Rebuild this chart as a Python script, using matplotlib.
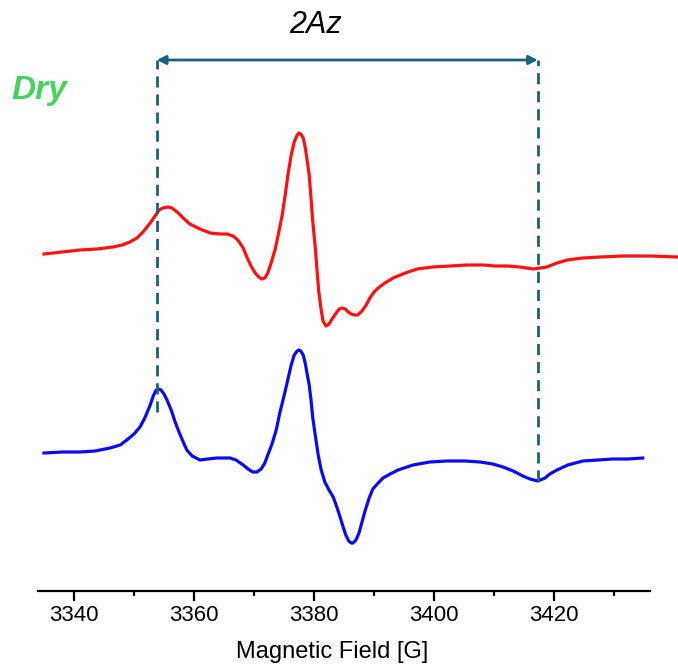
import matplotlib
matplotlib.use("Agg")
import matplotlib.pyplot as plt
from matplotlib.ticker import MultipleLocator

plt.rcParams['font.family'] = ['Liberation Sans', 'DejaVu Sans']

# Spektren (Feld in G, Intensitaet in willkuerlichen Einheiten)
field_red = [3335.0, 3338.0, 3341.0, 3343.8, 3346.5, 3348.0, 3349.3, 3350.5, 3351.5, 3352.7,
             3353.5, 3354.2, 3354.8, 3355.7, 3356.3, 3357.2, 3358.2, 3359.3, 3361.0, 3362.7,
             3364.3, 3365.5, 3366.5, 3367.3, 3368.2, 3368.8, 3369.5, 3370.2, 3370.8, 3371.3,
             3371.8, 3372.3, 3372.8, 3373.5, 3374.0, 3374.7, 3375.2, 3375.7, 3376.2, 3376.7,
             3377.2, 3377.5, 3377.8, 3378.2, 3378.5, 3378.8, 3379.2, 3379.5, 3379.8, 3380.2,
             3380.5, 3380.8, 3381.2, 3381.5, 3382.0, 3382.5, 3383.0, 3383.7, 3384.2, 3384.7,
             3385.2, 3385.7, 3386.2, 3386.8, 3387.3, 3388.0, 3388.7, 3389.3, 3390.0, 3390.7,
             3391.8, 3393.2, 3395.2, 3397.2, 3399.8, 3402.7, 3405.5, 3408.2, 3410.2, 3412.2,
             3414.3, 3416.5, 3417.7, 3418.8, 3420.5, 3422.2, 3424.8, 3427.7, 3431.5, 3436.0,
             3440.5]
signal_red = [1, 3, 5, 6, 8, 10, 13, 17, 23, 32,
              39, 45, 47, 48, 47, 43, 37, 31, 26, 22,
              21, 21, 19, 15, 7, -2, -11, -18, -22, -24,
              -23, -18, -9, 5, 19, 40, 60, 82, 100, 113,
              120, 122, 121, 117, 109, 97, 80, 57, 33, 8,
              -15, -37, -55, -66, -71, -69, -64, -58, -54, -53,
              -54, -57, -59, -60, -60, -56, -50, -43, -37, -33,
              -28, -23, -18, -14, -12, -11, -10, -10, -11, -11,
              -12, -14, -13, -12, -8, -5, -3, -2, -1, -1,
              -2]

field_blue = [3335.0, 3338.0, 3341.0, 3343.5, 3346.0, 3347.7, 3348.8, 3350.0, 3351.0, 3351.8,
              3352.7, 3353.2, 3353.7, 3354.0, 3354.5, 3355.0, 3355.5, 3356.2, 3356.8, 3357.5,
              3358.2, 3358.8, 3359.7, 3361.0, 3362.3, 3363.8, 3365.2, 3366.0, 3367.0, 3368.2,
              3369.0, 3369.8, 3370.5, 3371.2, 3371.8, 3372.3, 3373.0, 3373.7, 3374.3, 3375.0,
              3375.7, 3376.2, 3376.7, 3377.2, 3377.5, 3377.8, 3378.2, 3378.5, 3378.8, 3379.2,
              3379.5, 3379.8, 3380.2, 3380.7, 3381.2, 3381.8, 3382.5, 3383.2, 3383.8, 3384.3,
              3384.8, 3385.3, 3385.8, 3386.2, 3386.5, 3387.0, 3387.5, 3388.0, 3388.5, 3389.2,
              3389.8, 3390.7, 3391.5, 3392.7, 3394.0, 3396.5, 3399.3, 3402.2, 3405.2, 3407.7,
              3409.8, 3411.5, 3413.2, 3414.8, 3416.0, 3417.3, 3418.5, 3419.3, 3420.5, 3422.3,
              3424.8, 3427.3, 3429.8, 3432.3, 3434.8]
signal_blue = [-1, 0, 0, 1, 4, 7, 12, 18, 25, 34,
               47, 56, 62, 63, 62, 58, 52, 42, 31, 20,
               10, 2, -4, -8, -7, -6, -6, -6, -8, -13,
               -17, -20, -20, -17, -11, -3, 8, 22, 39, 56,
               74, 87, 97, 101, 102, 101, 97, 90, 80, 67,
               52, 34, 17, -3, -18, -30, -38, -45, -55, -64,
               -74, -83, -89, -91, -91, -88, -81, -70, -59, -46,
               -37, -31, -26, -22, -18, -13, -10, -9, -9, -10,
               -12, -15, -19, -24, -27, -29, -26, -22, -18, -13,
               -9, -8, -7, -7, -6]

offset_red = 336
offset_blue = 139

# 2Az Markierung
az_left = 3353.8
az_right = 3417.3

fig = plt.figure(figsize=(6.78, 6.64), dpi=100)
ax = fig.add_axes([38 / 678, 73 / 664, 612 / 678, 591 / 664])

ax.plot(field_red, [s + offset_red for s in signal_red], color="#ff1010", lw=2.3,
        clip_on=False, solid_joinstyle="round")
ax.plot(field_blue, [s + offset_blue for s in signal_blue], color="#0a0af5", lw=2.3,
        solid_joinstyle="round")

dash_color = "#1c5f7e"
ax.plot([az_left, az_left], [179, 531], color=dash_color, lw=2, linestyle=(0, (4, 2.5)))
ax.plot([az_right, az_right], [110, 531], color=dash_color, lw=2, linestyle=(0, (4, 2.5)))
ax.annotate("", xy=(az_right, 531), xytext=(az_left, 531),
            arrowprops=dict(arrowstyle="<|-|>", color=dash_color, lw=2,
                            mutation_scale=13, shrinkA=0, shrinkB=0))
ax.text(3380.2, 566, "2Az", fontsize=22, style="italic", ha="center", va="center")
ax.text(3329.5, 501, "Dry", fontsize=24, style="italic", fontweight="bold",
        color="#44d45b", ha="left", va="center", clip_on=False)

ax.set_xlim(3334, 3436)
ax.set_ylim(0, 591)
for s in ["top", "right", "left"]:
    ax.spines[s].set_visible(False)
ax.spines["bottom"].set_linewidth(1.6)
ax.set_yticks([])
ax.xaxis.set_major_locator(MultipleLocator(20))
ax.xaxis.set_minor_locator(MultipleLocator(10))
ax.tick_params(axis="x", which="major", length=7, width=1.6, labelsize=16, pad=3)
ax.tick_params(axis="x", which="minor", length=3.5, width=1.6)
ax.set_xlabel("Magnetic Field [G]", fontsize=17)
ax.xaxis.set_label_coords(0.48, -0.085)

plt.savefig("out.png", dpi=100)
